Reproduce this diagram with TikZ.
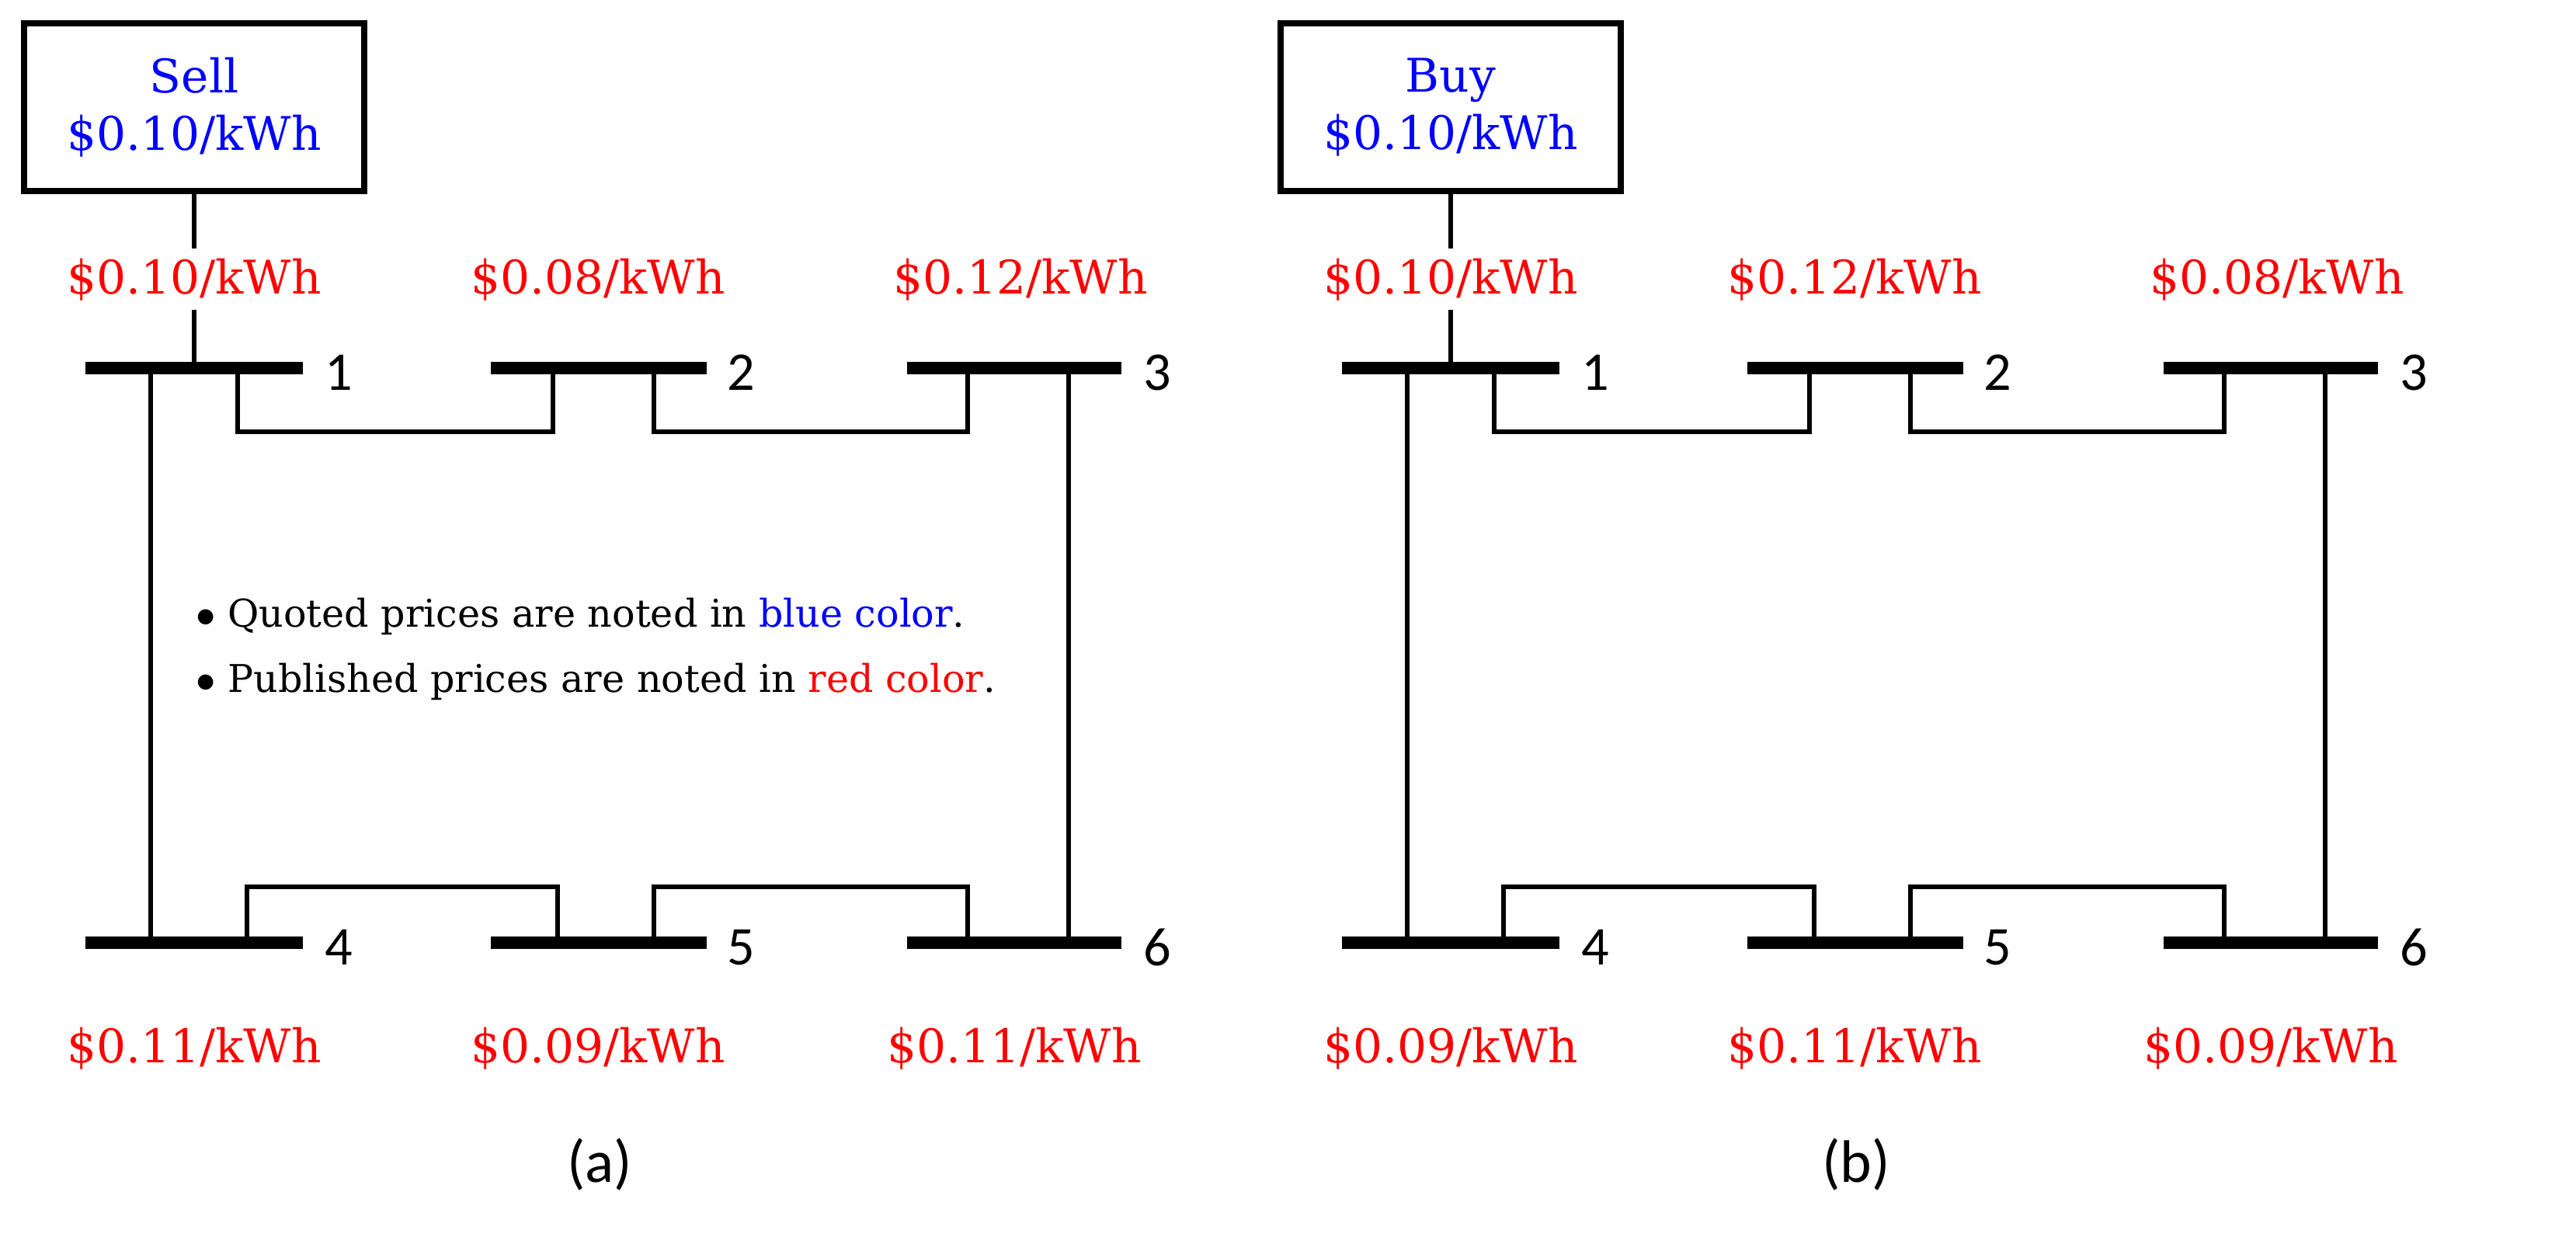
\documentclass[tikz,border=0pt]{standalone}
\usepackage{fontspec}
\setmainfont{DejaVu Serif}
\newfontfamily\numfont{Carlito}
\begin{document}
\begin{tikzpicture}[x=0.02cm,y=-0.02cm,
 bus/.style={line width=4.5pt},
 ln/.style={line width=1.7pt},
 price/.style={text=red,font=\fontsize{17}{20}\selectfont},
 num/.style={font=\numfont\fontsize{20}{24}\selectfont,anchor=west}]
\useasboundingbox (0,0) rectangle (1658.5,805.5);
\foreach \o/\top/\pa/\pb/\pc/\pd/\pe/\pf/\cap/\tag in {0/Sell/0.10/0.08/0.12/0.11/0.09/0.11/(a)/a,809/Buy/0.10/0.12/0.08/0.09/0.11/0.09/(b)/b}{
\begin{scope}[xshift=\o*0.02cm]
\node[draw,line width=2.5pt,minimum width=4.38cm,minimum height=2.16cm,text=blue,align=center,font=\fontsize{17}{21}\selectfont] (box\tag) at (125,69) {\top\\\$0.10/kWh};
\coordinate (b1\tag) at (125,237);
\draw[bus] (55,237) -- (195,237);
\draw[bus] (316,237) -- (455,237);
\draw[bus] (584,237) -- (722,237);
\draw[bus] (55,607) -- (195,607);
\draw[bus] (316,607) -- (455,607);
\draw[bus] (584,607) -- (722,607);
\node[num] (n1\tag) at (203,240) {1};
\node[num] (n2\tag) at (462,240) {2};
\node[num] (n3\tag) at (730,240) {3};
\node[num] (n4\tag) at (203,610) {4};
\node[num] (n5\tag) at (462,610) {5};
\node[num] (n6\tag) at (730,610) {6};
\node[price] (p1\tag) at (125,180) {\$\pa/kWh};
\node[price] (p2\tag) at (385,180) {\$\pb/kWh};
\node[price] (p3\tag) at (657,180) {\$\pc/kWh};
\node[price] (p4\tag) at (125,675) {\$\pd/kWh};
\node[price] (p5\tag) at (385,675) {\$\pe/kWh};
\node[price] (p6\tag) at (653,675) {\$\pf/kWh};
\draw[ln] (box\tag.south) -- (p1\tag.north);
\draw[ln] (p1\tag.south) -- (b1\tag);
\draw[ln] (97,237) -- (97,607);
\draw[ln] (153,237) -- (153,278) -- (356,278) -- (356,237);
\draw[ln] (421,237) -- (421,278) -- (623,278) -- (623,237);
\draw[ln] (688,237) -- (688,607);
\draw[ln] (159,607) -- (159,571) -- (359,571) -- (359,607);
\draw[ln] (421,607) -- (421,571) -- (623,571) -- (623,607);
\node[font=\numfont\fontsize{22}{26}\selectfont] (cap\tag) at (386,750) {\cap};
\end{scope}}
\node[anchor=west,align=left,font=\fontsize{14}{24}\selectfont] (note) at (120,418) {$\bullet$ Quoted prices are noted in \textcolor{blue}{blue color}.\\$\bullet$ Published prices are noted in \textcolor{red}{red color}.};
\end{tikzpicture}
\end{document}
